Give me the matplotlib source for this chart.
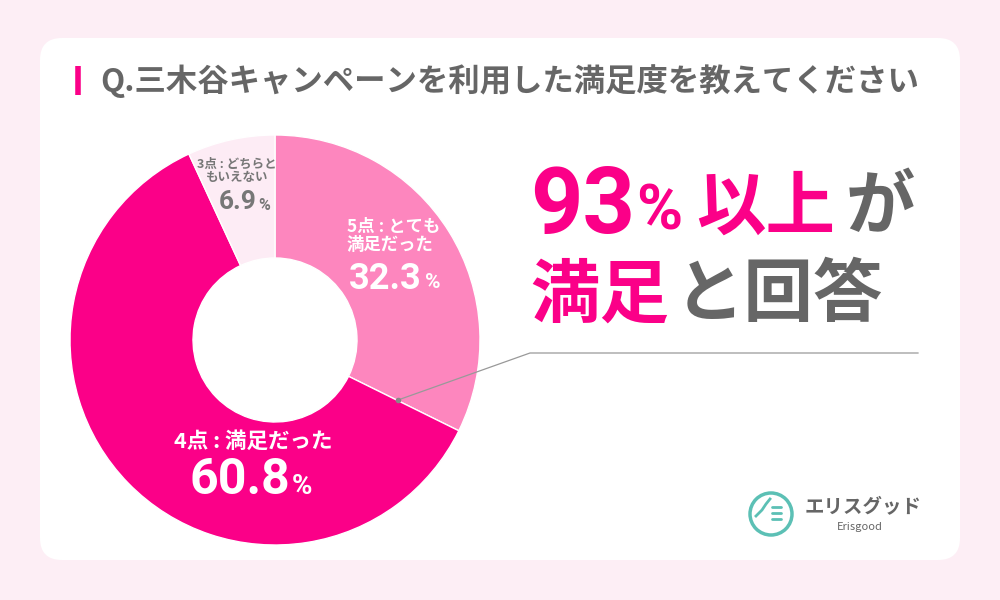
import matplotlib.pyplot as plt
from matplotlib.patches import FancyBboxPatch, Circle

plt.rcParams['font.family'] = ['Noto Sans CJK JP', 'DejaVu Sans']

# データ
labels = ['5点 : とても\n満足だった', '4点 : 満足だった', '3点 : どちらと\nもいえない']
values = [32.3, 60.8, 6.9]
colors = ['#fd86be', '#fb0088', '#fdecf5']
title = 'Q.三木谷キャンペーンを利用した満足度を教えてください'

PINK = '#fb0088'
GREY = '#666666'
NUM = ['Roboto', 'DejaVu Sans']

fig = plt.figure(figsize=(10, 6), dpi=100)
fig.patch.set_facecolor('#fdeef5')

# 背景・カード
ax0 = fig.add_axes([0, 0, 1, 1], zorder=0)
ax0.set_xlim(0, 1000)
ax0.set_ylim(600, 0)
ax0.axis('off')
card = FancyBboxPatch((40, 38), 920, 522, boxstyle='round,pad=0,rounding_size=22',
                      fc='white', ec='none')
ax0.add_patch(card)

# ドーナツ
cx, cy, R = 275, 340, 205
axp = fig.add_axes([(cx - R) / 1000, (600 - cy - R) / 600, 2 * R / 1000, 2 * R / 600], zorder=1)
axp.pie(values, colors=colors, startangle=90, counterclock=False, radius=1,
        wedgeprops=dict(width=0.6, edgecolor='white', linewidth=1))
axp.set_xlim(-1, 1)
axp.set_ylim(-1, 1)
axp.set_aspect('equal')
axp.axis('off')

# テキスト用
ax = fig.add_axes([0, 0, 1, 1], zorder=2)
ax.set_xlim(0, 1000)
ax.set_ylim(600, 0)
ax.axis('off')
ax.patch.set_alpha(0)

# タイトル
ax.plot([78, 78], [66, 95], color=PINK, lw=4, solid_capstyle='butt')
ax.text(100, 81, title, fontsize=22.6, fontweight='bold', color=GREY, va='center', ha='left')

# ラベル
ax.text(347, 236, labels[0], fontsize=12.5, fontweight='bold', color='white', va='center',
        ha='left', linespacing=1.05)
ax.text(422, 279, '32.3', family=NUM, fontsize=26, fontweight='bold', color='white',
        va='center', ha='right')
ax.text(425, 283, '%', family=NUM, fontsize=15, fontweight='bold', color='white',
        va='center', ha='left')

ax.text(174, 441, labels[1], fontsize=15.5, fontweight='bold', color='white', va='center', ha='left')
ax.text(290, 480, '60.8', family=NUM, fontsize=36, fontweight='bold', color='white',
        va='center', ha='right')
ax.text(292, 487, '%', family=NUM, fontsize=20, fontweight='bold', color='white',
        va='center', ha='left')

ax.text(237, 171, labels[2], fontsize=9, fontweight='bold', color='#777777', va='center',
        ha='center', linespacing=1.05)
ax.text(257, 202, '6.9', family=NUM, fontsize=19, fontweight='bold', color='#777777',
        va='center', ha='right')
ax.text(258, 205, '%', family=NUM, fontsize=11.5, fontweight='bold', color='#777777',
        va='center', ha='left')

# 引き出し線
ax.plot([398, 530, 918], [400, 353, 353], color='#999999', lw=0.9)
ax.plot([398], [400], 'o', color='#888888', ms=3)

# 見出し
ax.text(530, 207, '93', family=NUM, fontsize=66, fontweight='bold', color=PINK,
        va='center', ha='left')
ax.text(636, 212, '%', family=NUM, fontsize=45, fontweight='bold', color=PINK,
        va='center', ha='left')
ax.text(696, 208, '以上', fontsize=50, fontweight='bold', color=PINK, va='center', ha='left')
ax.text(846, 208, 'が', fontsize=50, fontweight='bold', color=GREY, va='center', ha='left')
ax.text(530, 296, '満足', fontsize=50, fontweight='bold', color=PINK, va='center', ha='left')
ax.text(675, 296, 'と回答', fontsize=50, fontweight='bold', color=GREY, va='center', ha='left')

# ロゴ
teal = '#5cc0b5'
ax.add_patch(Circle((771, 514), 21, fc='none', ec=teal, lw=2.5))
for yy in [507, 513, 519]:
    ax.plot([772, 781], [yy, yy], color=teal, lw=2, solid_capstyle='round')
ax.plot([756, 762, 766, 770], [516, 510, 504, 499], color=teal, lw=2)
ax.text(805, 507, 'エリスグッド', fontsize=14, fontweight='bold', color=GREY, va='center', ha='left')
ax.text(837, 527, 'Erisgood', fontsize=8, color=GREY, va='center', ha='left')

fig.savefig('out.png', dpi=100, facecolor=fig.get_facecolor())
